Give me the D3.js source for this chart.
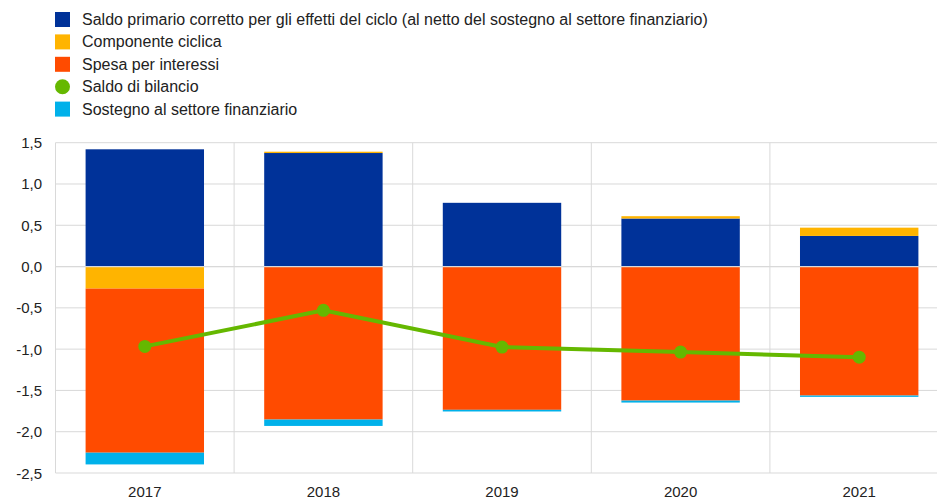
<!DOCTYPE html>
<html>
<head>
<meta charset="utf-8">
<script src="https://d3js.org/d3.v7.min.js"></script>
<style>
  body { margin: 0; background: #fff; }
  text { font-family: "Liberation Sans", Arial, sans-serif; }
</style>
</head>
<body>
<div class="chart"></div>
<script>
const years = ["2017", "2018", "2019", "2020", "2021"];
const saldoPrimario = [1.42, 1.375, 0.772, 0.582, 0.371];
const componenteCiclica = [-0.267, 0.016, 0.0, 0.028, 0.10];
const spesaInteressi = [-1.987, -1.853, -1.735, -1.623, -1.562];
const sostegno = [-0.142, -0.077, -0.02, -0.024, -0.016];
const saldoBilancio = [-0.967, -0.53, -0.975, -1.036, -1.097];
const yTicks = [1.5, 1.0, 0.5, 0.0, -0.5, -1.0, -1.5, -2.0, -2.5];

const series = [
  { key: "primario", label: "Saldo primario corretto per gli effetti del ciclo (al netto del sostegno al settore finanziario)", color: "#003299", values: saldoPrimario },
  { key: "ciclica", label: "Componente ciclica", color: "#FFB400", values: componenteCiclica },
  { key: "interessi", label: "Spesa per interessi", color: "#FF4B00", values: spesaInteressi },
  { key: "sostegno", label: "Sostegno al settore finanziario", color: "#00B1EA", values: sostegno }
];
const legendItems = [series[0], series[1], series[2], { label: "Saldo di bilancio", color: "#65B800", circle: true }, series[3]];

let width = 937, height = 500;
let plotLeft = 55.5, plotRight = 948.5, plotTop = 142.7, plotBottom = 473;

let svg = d3.select(".chart").append("svg")
  .attr("width", width).attr("height", height);

let x = d3.scaleBand().domain(years).range([plotLeft, plotRight]).paddingInner(0.337).paddingOuter(0.1685);
let xGrid = d3.scaleBand().domain(years).range([plotLeft, plotRight]);
let y = d3.scaleLinear().domain([-2.5, 1.5]).range([plotBottom, plotTop]);

// grid
svg.append("g").selectAll("line").data(yTicks).join("line")
  .attr("x1", plotLeft).attr("x2", width)
  .attr("y1", d => y(d)).attr("y2", d => y(d))
  .attr("stroke", "#d9d9d9").attr("stroke-width", 1);
svg.append("g").selectAll("line").data(years).join("line")
  .attr("x1", d => xGrid(d)).attr("x2", d => xGrid(d))
  .attr("y1", plotTop).attr("y2", plotBottom)
  .attr("stroke", "#d9d9d9").attr("stroke-width", 1);

// stacked bars
let table = years.map((yr, i) => {
  let row = { year: yr };
  series.forEach(s => row[s.key] = s.values[i]);
  return row;
});
let stacked = d3.stack().keys(series.map(s => s.key)).offset(d3.stackOffsetDiverging)(table);

svg.append("g").selectAll("g").data(stacked).join("g")
  .attr("fill", (d, i) => series[i].color)
  .selectAll("rect").data(d => d).join("rect")
  .attr("x", d => x(d.data.year))
  .attr("width", x.bandwidth())
  .attr("y", d => y(Math.max(d[0], d[1])))
  .attr("height", d => Math.abs(y(d[0]) - y(d[1])));

// zero line
svg.append("line")
  .attr("x1", plotLeft).attr("x2", width)
  .attr("y1", y(0)).attr("y2", y(0))
  .attr("stroke", "#d9d9d9").attr("stroke-width", 1.2);

// saldo di bilancio line
let pts = years.map((yr, i) => [x(yr) + x.bandwidth() / 2, y(saldoBilancio[i])]);
svg.append("path")
  .attr("d", d3.line()(pts))
  .attr("fill", "none").attr("stroke", "#65B800").attr("stroke-width", 4);
svg.append("g").selectAll("circle").data(pts).join("circle")
  .attr("cx", d => d[0]).attr("cy", d => d[1]).attr("r", 6.5)
  .attr("fill", "#65B800");

// axes labels
svg.append("g").selectAll("text").data(yTicks).join("text")
  .attr("x", 42).attr("y", d => y(d) + 5.5)
  .attr("text-anchor", "end").attr("font-size", 15).attr("fill", "#222")
  .text(d => d3.format(".1f")(d).replace(".", ",").replace("−", "-"));
svg.append("g").selectAll("text").data(years).join("text")
  .attr("x", d => x(d) + x.bandwidth() / 2).attr("y", 497)
  .attr("text-anchor", "middle").attr("font-size", 15).attr("fill", "#222")
  .text(d => d);

// legend
let lg = svg.append("g").selectAll("g").data(legendItems).join("g")
  .attr("transform", (d, i) => "translate(55," + (19.5 + i * 22.4) + ")");
lg.filter(d => !d.circle).append("rect")
  .attr("x", 0).attr("y", -7.5).attr("width", 15).attr("height", 15)
  .attr("fill", d => d.color);
lg.filter(d => d.circle).append("circle")
  .attr("cx", 7.5).attr("cy", 0).attr("r", 7.5)
  .attr("fill", d => d.color);
lg.append("text")
  .attr("x", 27).attr("y", 5.5).attr("font-size", 16).attr("fill", "#222")
  .text(d => d.label);
</script>
</body>
</html>
